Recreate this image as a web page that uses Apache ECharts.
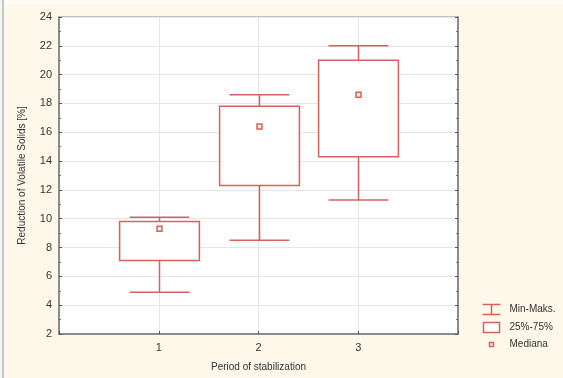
<!DOCTYPE html>
<html><head><meta charset="utf-8">
<script src="https://cdn.jsdelivr.net/npm/echarts@6/dist/echarts.min.js"></script>
<style>html,body{margin:0;padding:0;background:#fdf8ea;}#c{width:563px;height:378px;}</style>
</head><body><div id="c"></div>
<script>
var categories = [1, 2, 3];
var whiskerMin = [4.9, 8.5, 11.3];
var q1 = [7.1, 12.3, 14.3];
var median = [9.3, 16.4, 18.6];
var q3 = [9.8, 17.8, 21.0];
var whiskerMax = [10.1, 18.6, 22.0];
var yTicks = [2, 4, 6, 8, 10, 12, 14, 16, 18, 20, 22, 24];
var legendLabels = ['Min-Maks.', '25%-75%', 'Mediana'];

var red = '#d6625c';
var data = categories.map(function (c, i) {
  return [c, whiskerMin[i], q1[i], median[i], q3[i], whiskerMax[i]];
});

var chart = echarts.init(document.getElementById('c'));
var axisCol = '#8c8c8c';
chart.setOption({
  backgroundColor: '#fdf8ea',
  animation: false,
  grid: { left: 59, top: 17, right: 105, bottom: 44, show: true, backgroundColor: '#ffffff', borderColor: axisCol, borderWidth: 1 },
  xAxis: {
    type: 'value', min: 0, max: 4, interval: 1,
    name: 'Period of stabilization', nameLocation: 'middle', nameGap: 28,
    nameTextStyle: { fontFamily: 'Liberation Sans', fontSize: 10, color: '#333' },
    axisLine: { show: true, lineStyle: { color: axisCol, width: 2 } },
    axisTick: { show: true, inside: true, length: 3, lineStyle: { color: '#555' } },
    axisLabel: { fontFamily: 'Liberation Sans', fontSize: 11, color: '#333', margin: 8,
      formatter: function (v) { return categories.indexOf(v) >= 0 ? String(v) : ''; } },
    splitLine: { show: true, lineStyle: { color: '#e6e6e6', width: 1 } }
  },
  yAxis: [{
    type: 'value', min: 2, max: 24, interval: 2,
    name: 'Reduction of Volatile Solids [%]', nameLocation: 'middle', nameGap: 32,
    nameTextStyle: { fontFamily: 'Liberation Sans', fontSize: 10, color: '#333' },
    axisLine: { show: true, lineStyle: { color: axisCol, width: 2 } },
    axisTick: { show: true, inside: true, length: 3, lineStyle: { color: '#555' } },
    minorTick: { show: true, splitNumber: 2, length: 2, lineStyle: { color: '#777' } },
    axisLabel: { fontFamily: 'Liberation Sans', fontSize: 11, color: '#333', margin: 7,
      formatter: function (v) { return yTicks.indexOf(v) >= 0 ? String(v) : ''; } },
    splitLine: { show: true, lineStyle: { color: '#e6e6e6', width: 1 } }
  }, {
    type: 'value', min: 2, max: 24, interval: 2, position: 'right',
    axisLine: { show: true, lineStyle: { color: axisCol, width: 2 } },
    axisTick: { show: true, inside: true, length: 3, lineStyle: { color: '#555' } },
    minorTick: { show: true, splitNumber: 2, length: 2, lineStyle: { color: '#777' } },
    axisLabel: { show: false }, splitLine: { show: false }
  }],
  series: [{
    type: 'custom',
    data: data,
    encode: { x: 0, y: [1, 2, 3, 4, 5] },
    renderItem: function (params, api) {
      var x = api.value(0);
      var boxW = api.size([0.8, 0])[0];
      var capW = api.size([0.6, 0])[0];
      var pMin = api.coord([x, api.value(1)]);
      var pQ1 = api.coord([x, api.value(2)]);
      var pMed = api.coord([x, api.value(3)]);
      var pQ3 = api.coord([x, api.value(4)]);
      var pMax = api.coord([x, api.value(5)]);
      var cx = Math.round(pMed[0]) + 0.5;
      var ls = { stroke: red, lineWidth: 1.5, fill: null };
      return {
        type: 'group',
        children: [
          { type: 'line', shape: { x1: cx, y1: pMax[1], x2: cx, y2: pQ3[1] }, style: ls },
          { type: 'line', shape: { x1: cx, y1: pQ1[1], x2: cx, y2: pMin[1] }, style: ls },
          { type: 'line', shape: { x1: cx - capW / 2, y1: pMax[1], x2: cx + capW / 2, y2: pMax[1] }, style: ls },
          { type: 'line', shape: { x1: cx - capW / 2, y1: pMin[1], x2: cx + capW / 2, y2: pMin[1] }, style: ls },
          { type: 'rect', shape: { x: cx - boxW / 2, y: pQ3[1], width: boxW, height: pQ1[1] - pQ3[1] }, style: { stroke: red, lineWidth: 1.5, fill: '#ffffff' } },
          { type: 'rect', shape: { x: cx - 2.5, y: pMed[1] - 2.5, width: 5, height: 5 }, style: { stroke: red, lineWidth: 1.5, fill: '#fbe9e8' } }
        ]
      };
    }
  }],
  graphic: [
    { type: 'rect', shape: { x: 0, y: 0, width: 563, height: 5 }, style: { fill: '#fefcf5' }, silent: true },
    { type: 'rect', shape: { x: 2, y: 0, width: 2, height: 378 }, style: { fill: '#c8c8c8' }, silent: true },
    { type: 'rect', shape: { x: 0, y: 0, width: 2, height: 378 }, style: { fill: '#f4f4f4' }, silent: true },
    { type: 'group', left: 480, top: 302, children: [
      { type: 'line', shape: { x1: 0, y1: 0, x2: 18, y2: 0 }, style: { stroke: red, lineWidth: 1.5 } },
      { type: 'line', shape: { x1: 9, y1: 0, x2: 9, y2: 10 }, style: { stroke: red, lineWidth: 1.5 } },
      { type: 'line', shape: { x1: 0, y1: 10, x2: 18, y2: 10 }, style: { stroke: red, lineWidth: 1.5 } },
      { type: 'rect', shape: { x: 1, y: 18, width: 16, height: 10 }, style: { stroke: red, lineWidth: 1.5, fill: '#fff' } },
      { type: 'rect', shape: { x: 7, y: 38, width: 4, height: 4 }, style: { stroke: red, lineWidth: 1.5, fill: '#fbe9e8' } },
      { type: 'text', x: 27, y: 5, style: { text: legendLabels[0], fontFamily: 'Liberation Sans', fontSize: 10, fill: '#333', verticalAlign: 'middle' } },
      { type: 'text', x: 27, y: 23, style: { text: legendLabels[1], fontFamily: 'Liberation Sans', fontSize: 10, fill: '#333', verticalAlign: 'middle' } },
      { type: 'text', x: 27, y: 40, style: { text: legendLabels[2], fontFamily: 'Liberation Sans', fontSize: 10, fill: '#333', verticalAlign: 'middle' } }
    ] }
  ]
});
</script></body></html>
